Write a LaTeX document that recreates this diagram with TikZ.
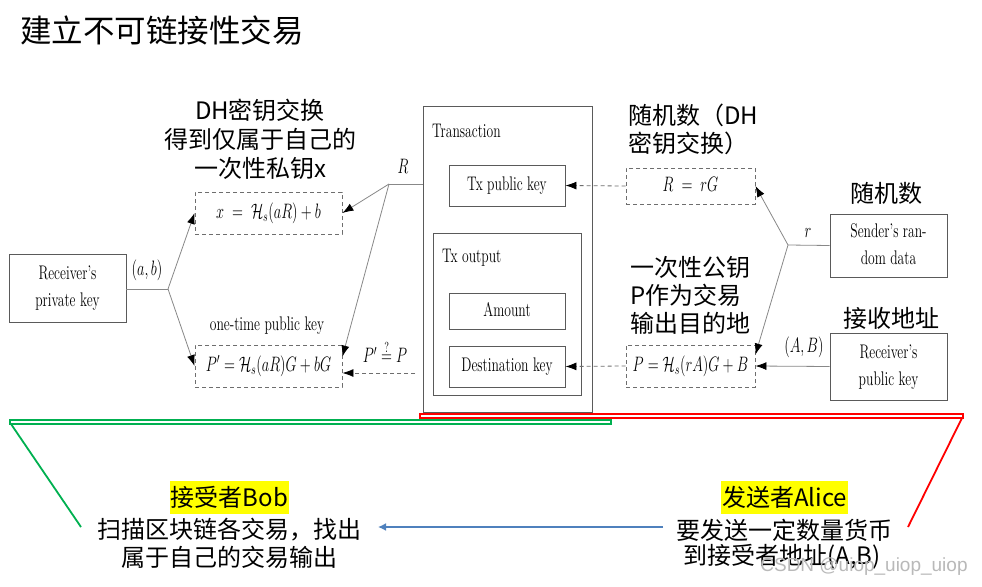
\documentclass[tikz,border=0pt]{standalone}
\usepackage{fontspec}
\usepackage{graphicx}
\newfontfamily\cjk{Noto Sans CJK SC}
\newfontfamily\wmfont{Liberation Sans}
\usetikzlibrary{arrows.meta,calc}
\newcommand{\tl}[1]{\scalebox{1}[1.45]{\fontsize{13.6}{18.6}\selectfont\begin{tabular}{@{}c@{}}#1\end{tabular}}}
\definecolor{boxgray}{HTML}{5A5A5A}
\definecolor{linegray}{HTML}{888888}
\definecolor{dashgray}{HTML}{6E6E6E}
\definecolor{mygreen}{HTML}{00B050}
\definecolor{myblue}{HTML}{4F81BD}
\definecolor{hiyellow}{HTML}{FFFF00}
\tikzset{
 solidbox/.style={draw=boxgray, line width=0.9pt, inner sep=0pt, align=center},
 dashbox/.style={draw=dashgray, line width=0.9pt, dash pattern=on 4pt off 3pt, inner sep=0pt},
 conn/.style={draw=linegray, line width=0.8pt, -{Latex[color=black,length=11pt,width=8pt]}},
 plainconn/.style={draw=linegray, line width=0.8pt},
 dconn/.style={draw=dashgray, line width=0.8pt, dash pattern=on 4pt off 3pt, -{Latex[color=black,length=11pt,width=8pt]}},
 cjklabel/.style={font=\cjk\fontsize{24}{29}\selectfont, inner sep=0pt},
 mlabel/.style={inner sep=0pt},
 hilite/.style={fill=hiyellow, minimum height=33, inner xsep=1pt},
}
\begin{document}
\begin{tikzpicture}[x=1pt,y=-1pt]
\useasboundingbox[fill=white] (0,0) rectangle (982,586);

\node[anchor=west, font=\cjk\fontsize{31.5}{36}\selectfont, inner sep=0pt] (title) at (20,30) {建立不可链接性交易};

% left side
\node[solidbox, minimum width=117, minimum height=68] (rpk) at (67.5,288) {\tl{Receiver's\\private key}};
\node[dashbox, minimum width=147, minimum height=42] (xb) at (268.5,213) {\tl{$x \;=\; \mathcal{H}_s(aR)+b$}};
\node[dashbox, minimum width=147, minimum height=42] (pp) at (268.5,366) {\tl{$P' = \mathcal{H}_s(aR)G+bG$}};
\node[mlabel] (otk) at (267,325) {\tl{one-time public key}};
\node[cjklabel, align=center] (dh) at (260,139) {DH密钥交换\\得到仅属于自己的\\一次性私钥x};
\coordinate (j1) at (168,289);
\node[mlabel] (ab) at (147,270) {\tl{$(a,b)$}};
\draw[plainconn] (rpk.east |- j1) -- (j1);
\draw[conn] (j1) -- (xb.west);
\draw[conn] (j1) -- (pp.west);

% transaction
\node[solidbox, minimum width=169, minimum height=306] (tx) at (507.5,259) {};
\node[mlabel, anchor=west] (txl) at (432,132) {\tl{Transaction}};
\node[solidbox, minimum width=116, minimum height=41] (txpk) at (507,185.5) {\tl{Tx public key}};
\node[solidbox, minimum width=148, minimum height=162] (txo) at (507,314) {};
\node[mlabel, anchor=west] (txol) at (442,257) {\tl{Tx output}};
\node[solidbox, minimum width=116, minimum height=36] (amt) at (507,311) {\tl{Amount}};
\node[solidbox, minimum width=116, minimum height=41] (dest) at (507,366.5) {\tl{Destination key}};

% R junction
\coordinate (j2) at (389,184);
\node[mlabel] (Rl) at (403,168) {\tl{$R$}};
\draw[plainconn] (tx.west |- j2) -- (j2);
\draw[conn] (j2) -- (xb.east);
\draw[conn] (j2) -- ($(pp.north east)+(0,12)$);
\coordinate (pq) at (415,373);
\draw[dconn] (pq) -- (pp.east |- pq);
\node[mlabel] (pql) at (385,356) {\tl{$P' \stackrel{?}{=} P$}};

% right side
\node[dashbox, minimum width=129, minimum height=36] (rb) at (690.5,186) {\tl{$R \;=\; rG$}};
\node[dashbox, minimum width=129, minimum height=42] (pb) at (690.5,366) {\tl{$P = \mathcal{H}_s(rA)G+B$}};
\node[solidbox, minimum width=117, minimum height=63] (srd) at (888.5,245.5) {\tl{Sender's ran-\\dom data}};
\node[solidbox, minimum width=117, minimum height=67] (rpub) at (888.5,366.5) {\tl{Receiver's\\public key}};
\draw[dconn] (rb.west) -- (txpk.east);
\draw[dconn] (pb.west) -- (dest.east);
\coordinate (j3) at (788,245);
\node[mlabel] (rl) at (808,232) {\tl{$r$}};
\node[mlabel] (ABl) at (804,347) {\tl{$(A,B)$}};
\draw[plainconn] (srd.west) -- (j3);
\draw[conn] (j3) -- (rb.east);
\draw[conn] (j3) -- ($(pb.north east)+(0,10)$);
\draw[conn] (rpub.west) -- (pb.east);

\node[cjklabel, anchor=west, align=left, font=\cjk\fontsize{24}{28}\selectfont] (rnd1) at (628,129) {随机数（DH\\密钥交换）};
\node[cjklabel, anchor=west, align=left, font=\cjk\fontsize{24}{28}\selectfont] (p1) at (630,295) {一次性公钥\\P作为交易\\输出目的地};
\node[cjklabel] (rnd2) at (886,193) {随机数};
\node[cjklabel] (addr) at (891,318) {接收地址};

% brackets
\draw[red, line width=1.8pt] (420,414) rectangle (963,418);
\draw[red, line width=1.8pt] (962,418) -- (908,527);
\draw[mygreen, line width=1.8pt] (10,420) rectangle (611,424);
\draw[mygreen, line width=1.8pt] (11,424) -- (81,527);

% bottom texts
\node[cjklabel, hilite] (bobh) at (229.5,497) {接受者Bob};
\node[cjklabel] (bob1) at (229.5,530) {扫描区块链各交易，找出};
\node[cjklabel] (bob2) at (229.5,557) {属于自己的交易输出};
\node[cjklabel, hilite] (aliceh) at (784.5,497) {发送者Alice};
\node[cjklabel] (alice1) at (784.5,530) {要发送一定数量货币};
\node[cjklabel] (alice2) at (782,557) {到接受者地址(A,B)};
\coordinate (a1) at (663,527);
\coordinate (b1) at (378,527);
\draw[myblue, line width=2pt, -{Latex[length=8pt,width=8pt]}] (a1) -- (b1);

\node[font=\wmfont\fontsize{19}{22}\selectfont, text=gray!55, inner sep=0pt] (wm) at (864,567) {CSDN @uiop\_uiop\_uiop};
\end{tikzpicture}
\end{document}
